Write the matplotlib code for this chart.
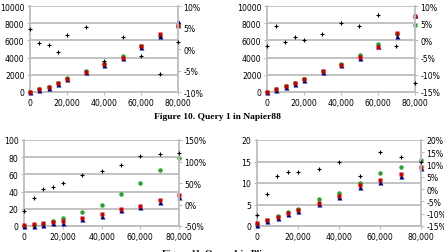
import numpy as np
import matplotlib.pyplot as plt
from matplotlib.ticker import FuncFormatter

# x values (number of objects)
x = [0, 5000, 10000, 15000, 20000, 30000, 40000, 50000, 60000, 70000, 80000]

# Figure 10 left panel
p1_red = [0, 310, 620, 1000, 1470, 2360, 3200, 4000, 5400, 6800, 7670]
p1_blue = [0, 200, 500, 900, 1500, 2300, 3100, 4000, 5200, 6500, 8300]
p1_green = [0, 300, 600, 1000, 1600, 2450, 3200, 4200, 5300, 6500, 7700]
p1_diff = [4.6, 1.4, 1.0, -0.7, 3.2, 5.1, -2.8, 2.8, -1.6, -5.8, 1.6]

# Figure 10 right panel
p2_red = [0, 390, 660, 1010, 1480, 2450, 3150, 4100, 5250, 6900, 8850]
p2_blue = [0, 200, 550, 900, 1400, 2300, 3100, 4000, 5400, 6500, 9000]
p2_green = [0, 300, 650, 1000, 1500, 2400, 3300, 4300, 5600, 6700, 7800]
p2_diff = [-1.7, 4.2, -0.5, 1.0, 0.0, 2.0, 5.0, 4.2, 7.4, -1.7, -12.4]

# Figure 11 left panel
p3_red = [1.5, 2, 3.5, 5, 5.5, 9.3, 14, 20, 23.3, 30, 36]
p3_blue = [0.5, 0.5, 1, 3, 4, 8, 12, 19, 22, 28, 34]
p3_green = [0, 1, 2, 6, 9.3, 16.3, 24.5, 37.4, 50.2, 65.4, 79.4]
p3_diff = [-14, 16, 35, 40, 51, 68, 79, 91, 112, 117, 119]

# Figure 11 right panel
p4_red = [0.7, 1.3, 2.2, 3.0, 3.7, 5.4, 6.9, 9.5, 10.7, 12.1, 13.7]
p4_blue = [0.2, 1.1, 1.9, 2.7, 3.4, 5.2, 6.7, 9.0, 10.2, 11.6, 13.4]
p4_green = [0.5, 1.4, 2.4, 3.2, 3.9, 6.3, 7.6, 10.0, 12.4, 13.8, 15.4]
p4_diff = [-10.7, -1.8, 5.2, 6.8, 6.8, 8.4, 10.9, 5.2, 15.0, 13.0, 10.9]

W, H = 444, 253
fig = plt.figure(figsize=(W / 100, H / 100), dpi=100)

GRID = '#bdbdbd'
FS = 5.6


def panel(left, right, top, bottom, red, blue, green, diff, ylim, yticks, rlim, rticks):
    ax = fig.add_axes([left / W, (H - bottom) / H, (right - left) / W, (bottom - top) / H])
    ax.set_xlim(0, 80000)
    ax.set_ylim(*ylim)
    ax.set_yticks(yticks)
    ax.set_xticks([0, 20000, 40000, 60000, 80000])
    ax.xaxis.set_major_formatter(FuncFormatter(lambda v, p: '{:,}'.format(int(v))))
    for y in yticks:
        ax.axhline(y, color=GRID, lw=1.3, zorder=0)
    for s in ['left', 'bottom']:
        ax.spines[s].set_color(GRID)
        ax.spines[s].set_linewidth(1.3)
    ax.spines['top'].set_visible(False)
    ax.spines['right'].set_visible(False)
    ax.tick_params(colors=GRID, labelcolor='black', labelsize=FS, length=2, width=0.8, pad=2)

    ax.plot(x, green, 'o', color='#2ca02c', ms=3.2, mec='none', clip_on=False, zorder=3)
    ax.plot(x, blue, '^', color='#000080', ms=3.6, mec='none', clip_on=False, zorder=4)
    ax.plot(x, red, 's', color='#cc0000', ms=3.4, mec='none', clip_on=False, zorder=5)

    ax2 = ax.twinx()
    ax2.set_ylim(*rlim)
    ax2.set_yticks(rticks)
    ax2.set_yticklabels(['%d%%' % t for t in rticks])
    for s in ['left', 'top', 'bottom']:
        ax2.spines[s].set_visible(False)
    ax2.spines['right'].set_color(GRID)
    ax2.spines['right'].set_linewidth(1.3)
    ax2.tick_params(colors=GRID, labelcolor='black', labelsize=FS, length=2, width=0.8, pad=2)
    ax2.plot(x, diff, '+', color='black', ms=3.5, mew=0.8, clip_on=False, zorder=6)
    return ax


panel(30, 178, 7, 93, p1_red, p1_blue, p1_green, p1_diff,
      (0, 10000), [0, 2000, 4000, 6000, 8000, 10000], (-10, 10), [-10, -5, 0, 5, 10])
panel(267, 415, 7, 93, p2_red, p2_blue, p2_green, p2_diff,
      (0, 10000), [0, 2000, 4000, 6000, 8000, 10000], (-15, 10), [-15, -10, -5, 0, 5, 10])
panel(24, 179, 141, 227, p3_red, p3_blue, p3_green, p3_diff,
      (0, 100), [0, 20, 40, 60, 80, 100], (-50, 150), [-50, 0, 50, 100, 150])
panel(257, 421, 141, 227, p4_red, p4_blue, p4_green, p4_diff,
      (0, 20), [0, 5, 10, 15, 20], (-15, 20), [-15, -10, -5, 0, 5, 10, 15, 20])

fig.text(217 / W, 1 - 117 / H, 'Figure 10. Query 1 in Napier88', ha='center', va='center',
         family='Liberation Serif', weight='bold', fontsize=6.8)
fig.text(217 / W, 1 - 253.5 / H, 'Figure 11. Query 1 in Pliny', ha='center', va='center',
         family='Liberation Serif', weight='bold', fontsize=6.8)

fig.savefig('out.png', dpi=100)
